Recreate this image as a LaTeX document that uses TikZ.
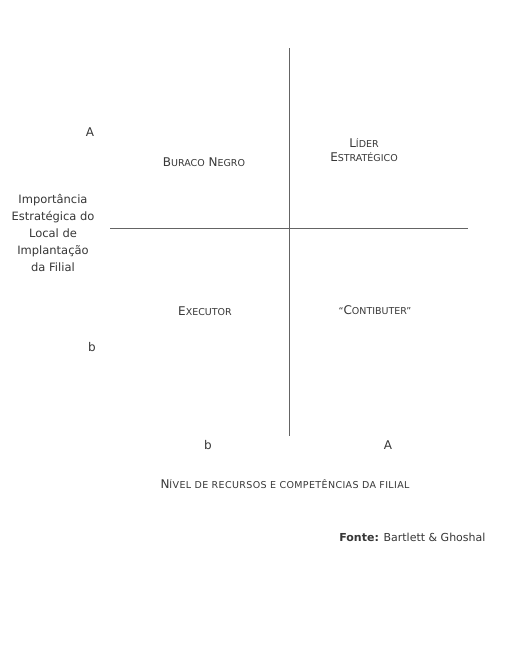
\documentclass[tikz,border=0pt]{standalone}
\usepackage{fontspec}
\setmainfont{DejaVu Sans}
\usetikzlibrary{positioning}
\definecolor{InkGray}{RGB}{55,55,55}
\definecolor{LineGray}{RGB}{100,100,100}
\newcommand\scs[1]{{\fontsize{9.5}{11}\selectfont #1}}

\begin{document}
\begin{tikzpicture}[x=1pt, y=-1pt,
  quad/.style={font=\fontsize{12}{14}\selectfont, text=InkGray, align=center},
  level/.style={font=\fontsize{12}{14}\selectfont, text=InkGray},
  ylbl/.style={font=\fontsize{11.5}{17}\selectfont, text=InkGray, align=center},
  src/.style={font=\fontsize{11}{13}\selectfont, text=InkGray, anchor=east},
  axis/.style={LineGray, line width=0.8pt},
]
\useasboundingbox[fill=white] (0,0) rectangle (517,645);
% Axes
\coordinate (vtop) at (289,48);
\coordinate (vbot) at (289,436);
\coordinate (hleft) at (110,228);
\coordinate (hright) at (468,228);
\draw[axis] (vtop) -- (vbot);
\draw[axis] (hleft) -- (hright);
% Quadrants
\node[quad] (buraco) at (204,162) {B\scs{URACO} N\scs{EGRO}};
\node[quad] (lider) at (364,150) {L\scs{ÍDER}\\E\scs{STRATÉGICO}};
\node[quad] (executor) at (205,311) {E\scs{XECUTOR}};
\node[quad] (contrib) at (375,310) {\scs{“}C\scs{ONTIBUTER”}};
% Levels
\node[level] (yhigh) at (90,132) {A};
\node[level] (ylow) at (92,347) {b};
\node[level] (xlow) at (208,445) {b};
\node[level] (xhigh) at (388,445) {A};
% Axis titles
\node[ylbl] (ytitle) at (53,233) {Importância\\Estratégica do\\Local de\\Implantação\\da Filial};
\node[quad] (xtitle) at (285,484) {\addfontfeature{LetterSpace=4}N\scs{ÍVEL DE RECURSOS E COMPETÊNCIAS DA FILIAL}};
\node[src] (fonte) at (489,537) {\textbf{Fonte:} Bartlett \& Ghoshal};
\end{tikzpicture}
\end{document}
